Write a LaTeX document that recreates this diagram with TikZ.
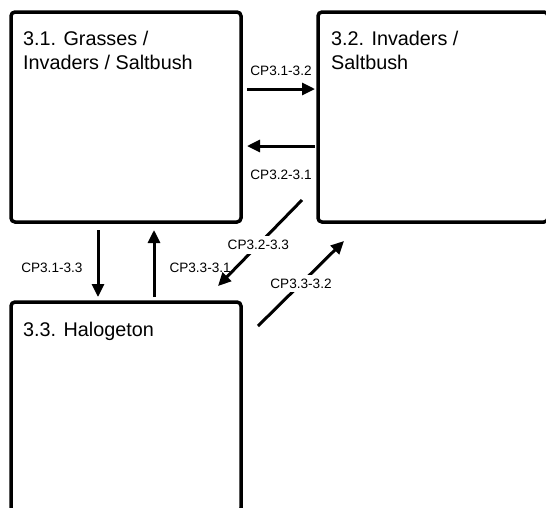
\documentclass[tikz,border=0pt]{standalone}
\usepackage{fontspec}
\setmainfont{Liberation Sans}
\usetikzlibrary{arrows.meta,calc}

\begin{document}
\begin{tikzpicture}[x=1pt,y=-1pt,
  box/.style={draw,line width=3.5pt,rounded corners=4pt,minimum width=230pt,minimum height=210pt,anchor=north west,inner sep=0pt,outer sep=0pt},
  title/.style={anchor=north west,inner sep=0pt,align=left,font=\fontsize{19.8}{23.5}\selectfont},
  lab/.style={font=\fontsize{13.6}{16}\selectfont,inner sep=2pt},
  cp/.style={line width=3pt,-{Triangle[length=13pt,width=12pt]}}]
\useasboundingbox (0,0) rectangle (546,507);
\clip (0,0) rectangle (546,507);

\node[box] (b31) at (11,12) {};
\node[box] (b32) at (318,12) {};
\node[box] (b33) at (11,302) {};

\node[title] at ($(b31.north west)+(12,19)$) {3.1. Grasses /\\Invaders / Saltbush};
\node[title] at ($(b32.north west)+(13,19)$) {3.2. Invaders /\\Saltbush};
\node[title] at ($(b33.north west)+(12,20)$) {3.3. Halogeton};

% left/right pair
\draw[cp] ($(b31.north east)+(6,77)$) -- ($(b32.north west)+(-3,77)$) node[lab,midway,above=10pt]{CP3.1-3.2};
\draw[cp] ($(b32.north west)+(-3,134)$) -- ($(b31.north east)+(6,134)$) node[lab,midway,below=20pt]{CP3.2-3.1};

% up/down pair
\draw[cp] ($(b31.south west)+(87,8)$) -- ($(b33.north west)+(87,-5)$) node[lab,midway,left=12pt,yshift=-4pt]{CP3.1-3.3};
\draw[cp] ($(b33.north west)+(143,-5)$) -- ($(b31.south west)+(143,8)$) node[lab,midway,right=12pt,yshift=-4pt]{CP3.3-3.1};

% diagonal pair
\draw[cp] ($(b32.south west)+(-16,-22)$) -- ($(b33.north east)+(-23,-16)$) node[lab,fill=white,inner sep=4pt,pos=.52]{CP3.2-3.3};
\draw[cp] ($(b33.north east)+(17,24)$) -- ($(b32.south west)+(26,19)$) node[lab,fill=white,inner sep=4pt,pos=.5]{CP3.3-3.2};

\end{tikzpicture}
\end{document}
